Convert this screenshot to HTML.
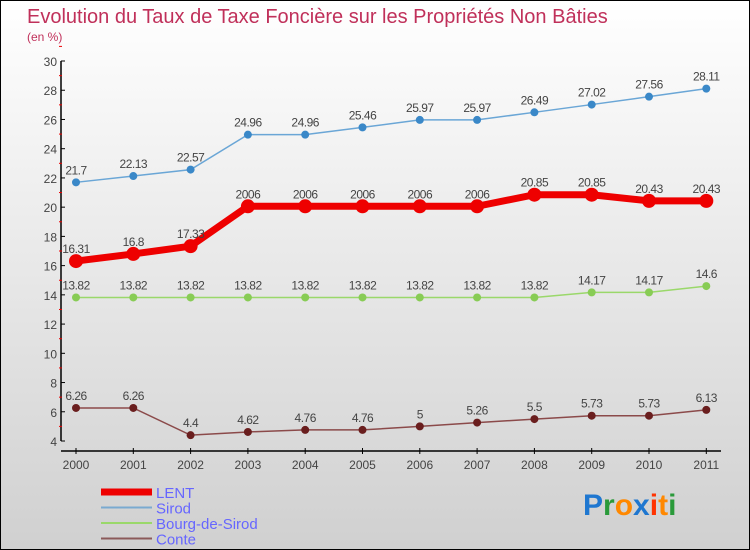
<!DOCTYPE html>
<html><head><meta charset="utf-8"><style>
html,body{margin:0;padding:0}
body{width:750px;height:550px;overflow:hidden;font-family:"Liberation Sans",sans-serif}
#wrap{position:relative;width:748px;height:548px;border:1px solid #000;background:linear-gradient(#ffffff,#d0d0d0)}
</style></head><body>
<div id="wrap">
<svg id="chart" width="748" height="548" xmlns="http://www.w3.org/2000/svg" style="position:absolute;left:0;top:0">
<text x="26" y="22" font-size="20" fill="#c0305a">Evolution du Taux de Taxe Foncière sur les Propriétés Non Bâties</text>
<text x="26" y="40" font-size="12" fill="#c0305a">(en %)</text>
<g id="axes"></g><g id="series"></g><g id="legend"></g>
<g font-size="30" font-weight="bold" font-family="Liberation Sans, sans-serif">
<text x="582" y="514"><tspan fill="#1f77d0">P</tspan><tspan fill="#2a9a3a">r</tspan><tspan fill="#ff8800">o</tspan><tspan fill="#1f77d0">x</tspan><tspan fill="#ff3300">i</tspan><tspan fill="#ff8800">t</tspan><tspan fill="#2a9a3a">i</tspan></text>
</g>
</svg>
</div>
<script>
const years=["2000","2001","2002","2003","2004","2005","2006","2007","2008","2009","2010","2011"];
const lent=[16.31,16.8,17.33,20.06,20.06,20.06,20.06,20.06,20.85,20.85,20.43,20.43];
const lentLabels=["16.31","16.8","17.33","2006","2006","2006","2006","2006","20.85","20.85","20.43","20.43"];
const sirod=[21.7,22.13,22.57,24.96,24.96,25.46,25.97,25.97,26.49,27.02,27.56,28.11];
const bourg=[13.82,13.82,13.82,13.82,13.82,13.82,13.82,13.82,13.82,14.17,14.17,14.6];
const conte=[6.26,6.26,4.4,4.62,4.76,4.76,5,5.26,5.5,5.73,5.73,6.13];
const conteLabels=["6.26","6.26","4.4","4.62","4.76","4.76","5","5.26","5.5","5.73","5.73","6.13"];
const yTicks=[4,6,8,10,12,14,16,18,20,22,24,26,28,30];
const NS="http://www.w3.org/2000/svg";
const X=i=>75+i*57.3, Y=v=>440-(v-4)*14.615;
function mk(tag,attrs,parent){const e=document.createElementNS(NS,tag);for(const k in attrs)e.setAttribute(k,attrs[k]);parent.appendChild(e);return e;}
const axes=document.getElementById('axes');
let l=mk('line',{x1:60,y1:Y(30),x2:60,y2:Y(4),stroke:'#000','stroke-width':1.5},axes);


l=mk('line',{x1:60,y1:450,x2:720,y2:450,stroke:'#000','stroke-width':1.5},axes);


yTicks.forEach(v=>{
 mk('line',{x1:60,y1:Y(v),x2:64,y2:Y(v),stroke:'#000'},axes);
 mk('line',{x1:58,y1:Y(v+1),x2:61,y2:Y(v+1),stroke:'#e00'},axes);
 const t=mk('text',{x:56,y:Y(v)+5,'font-size':12,fill:'#444','text-anchor':'end'},axes);t.textContent=v;
 
 
});
years.forEach((y,i)=>{
 mk('line',{x1:X(i),y1:447,x2:X(i),y2:453,stroke:'#000'},axes);
 const t=mk('text',{x:X(i),y:468,'font-size':12,fill:'#444','text-anchor':'middle'},axes);t.textContent=y;
 
 
});
const ser=document.getElementById('series');
function draw(name,vals,labels,color,w,r,dot){
 const g=mk('g',{},ser);
 
 
 mk('polyline',{points:vals.map((v,i)=>X(i)+','+Y(v)).join(' '),fill:'none',stroke:color,'stroke-width':w},g);
 vals.forEach((v,i)=>{
  const c=mk('circle',{cx:X(i),cy:Y(v),r:r,fill:dot},g);
  
  
  const t=mk('text',{x:X(i),y:Y(v)-8,'font-size':12,fill:'#444','text-anchor':'middle','letter-spacing':'-0.5'},g);
  t.textContent=labels?labels[i]:String(v);
  
  
 });
}
draw('sirod',sirod,null,'#6aa6d6',1.5,4,'#3a88c8');
draw('bourg',bourg,null,'#9ad86a',1.5,4,'#88cc55');
draw('conte',conte,conteLabels,'#8b4a4a',1.5,4,'#6a1e1e');
draw('lent',lent,lentLabels,'#ee0000',7,7,'#ee0000');
const leg=document.getElementById('legend');
[['LENT','#ee0000',7],['Sirod','#7aaad0',2],['Bourg-de-Sirod','#9ad86a',2],['Conte','#8b5a5a',2]].forEach((e,i)=>{
 const g=mk('g',{},leg);
 
 
 const y=491+i*15.5;
 mk('line',{x1:100,y1:y,x2:151,y2:y,stroke:e[1],'stroke-width':e[2]},g);
 const t=mk('text',{x:155,y:y+6,'font-size':15,fill:'#6666ff'},g);t.textContent=e[0];
});
</script>
</body></html>
